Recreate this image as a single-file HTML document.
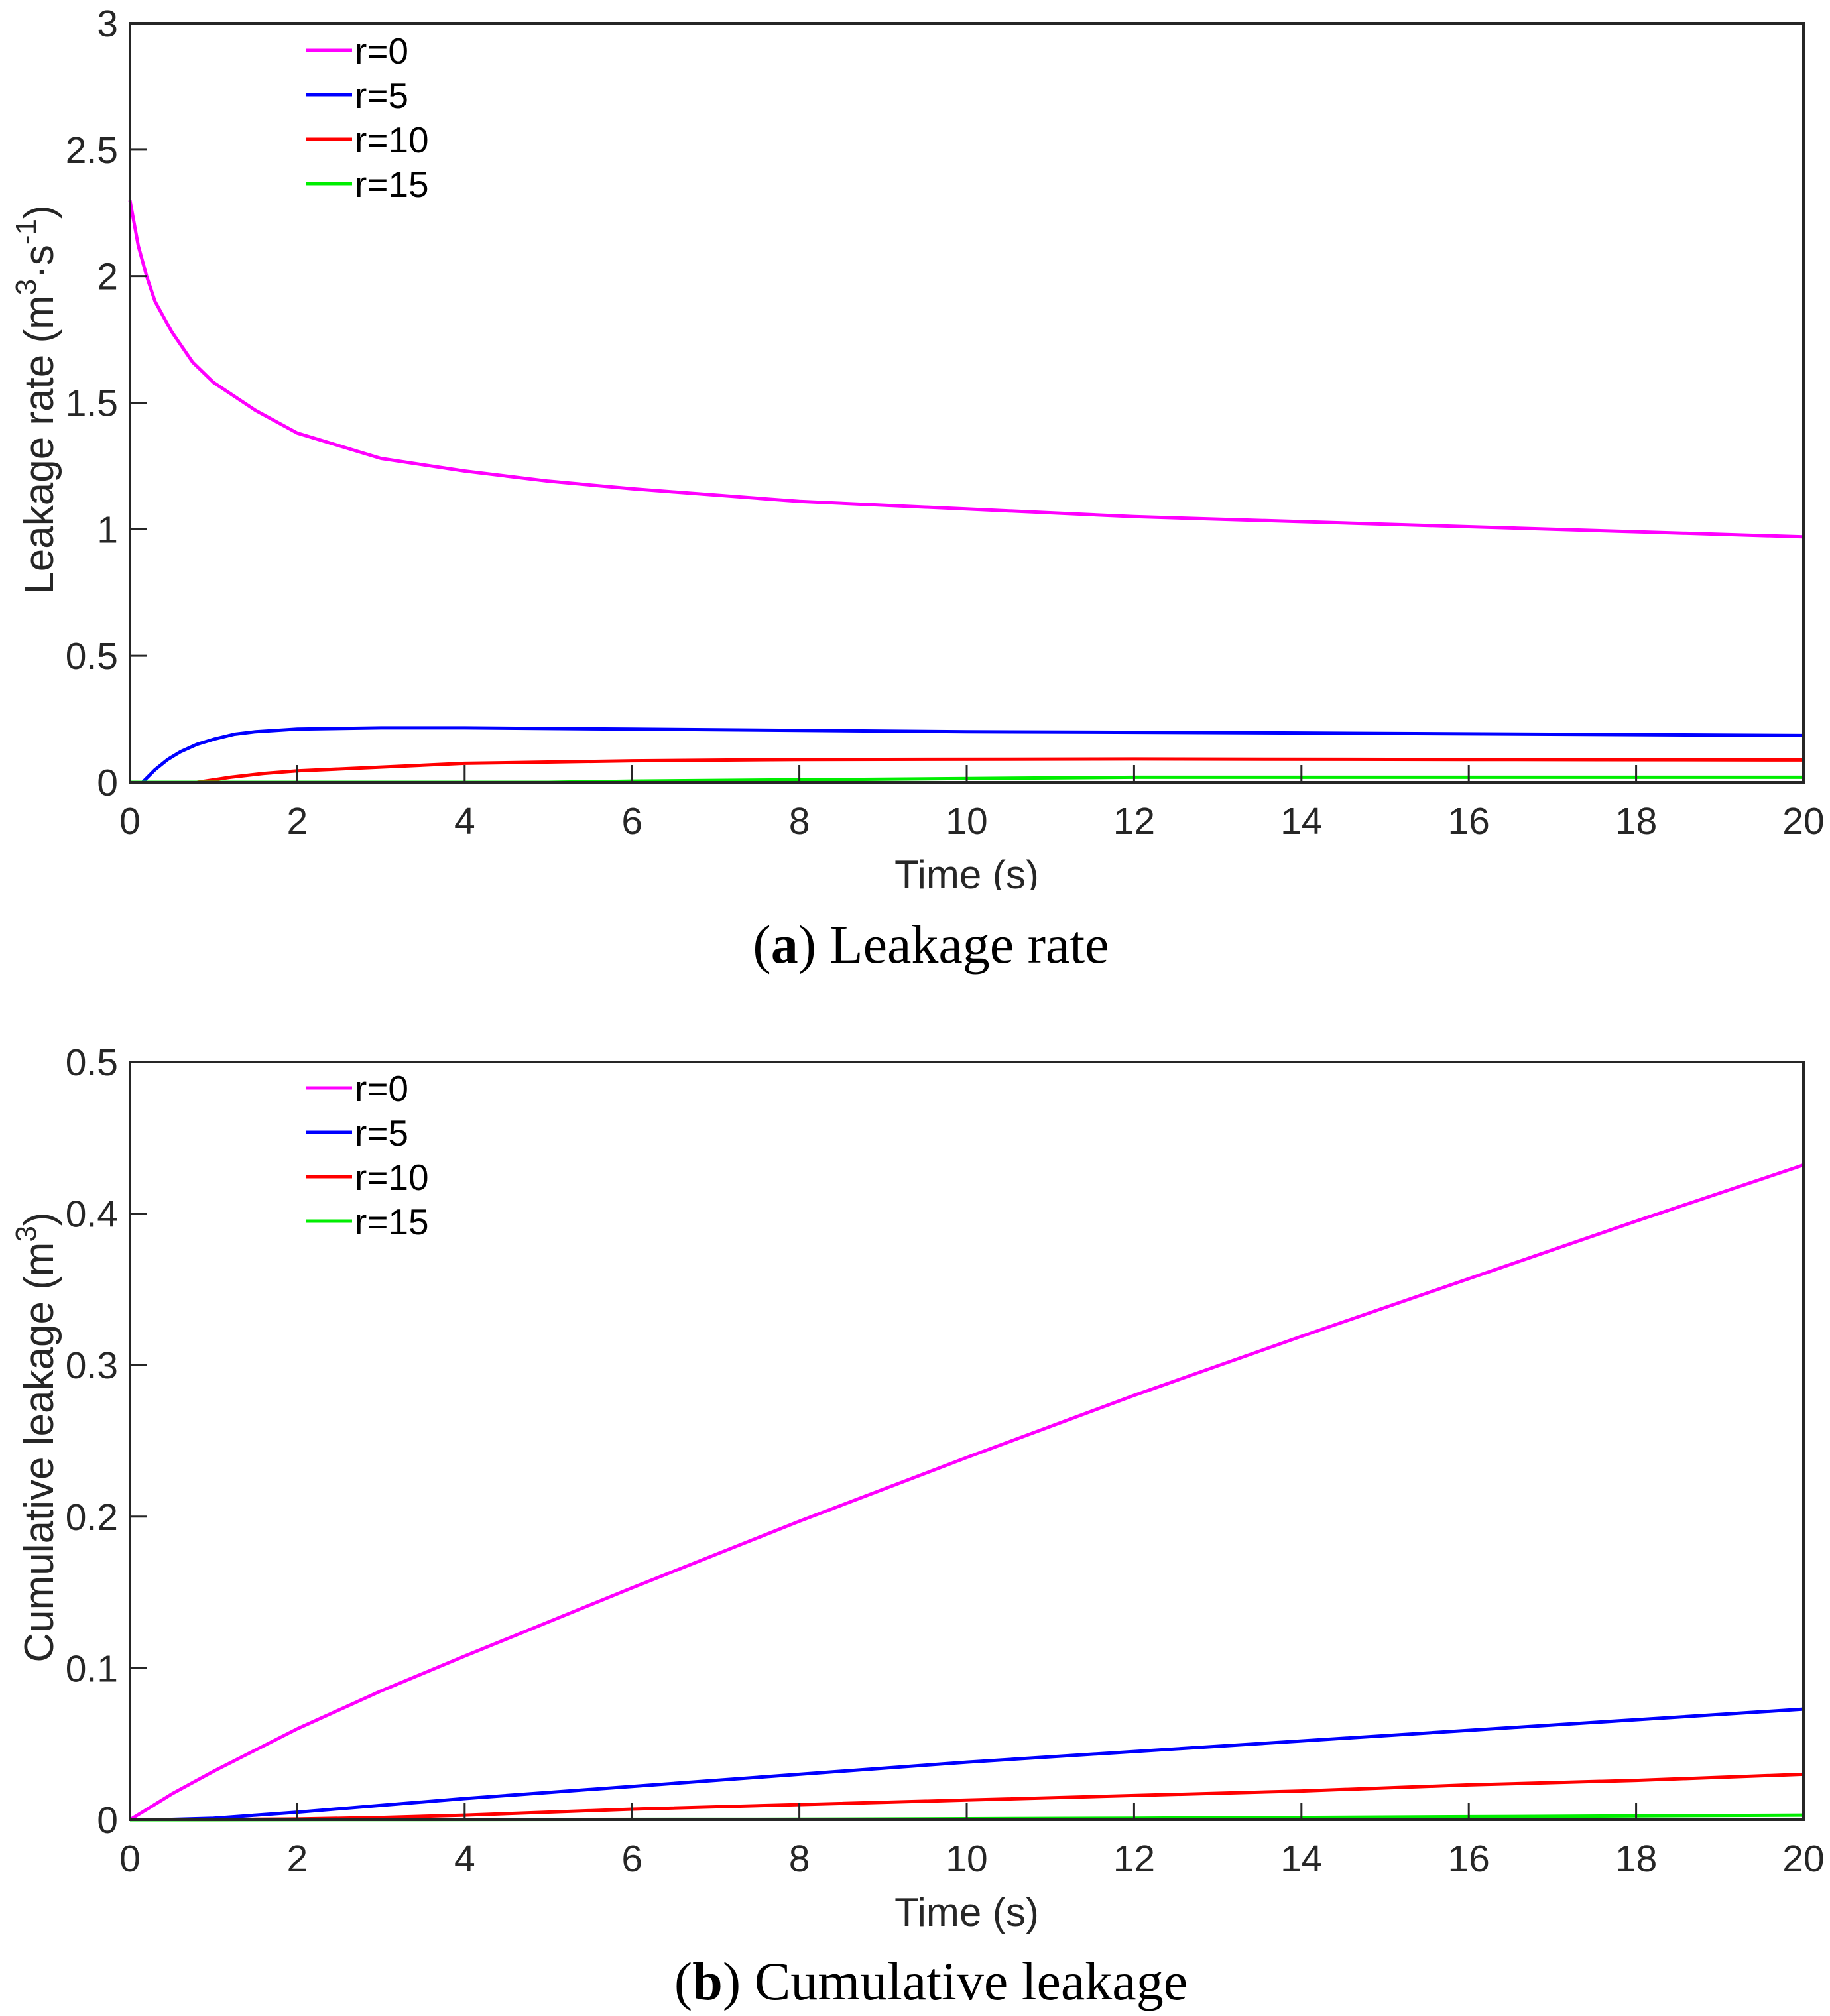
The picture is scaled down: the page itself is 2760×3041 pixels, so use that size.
<!DOCTYPE html>
<html><head><meta charset="utf-8"><style>
html,body{margin:0;padding:0;background:#fff;}
svg{display:block;}
</style></head><body>
<svg id="fig" width="2760" height="3041" viewBox="0 0 2760 3041" xmlns="http://www.w3.org/2000/svg"></svg>
<script>
// ---- Panel (a): Leakage rate ----
const rateT0 = [0,0.1,0.2,0.3,0.5,0.75,1,1.5,2,3,4,5,6,8,10,12,14,16,18,20];
const rateR0 = [2.3,2.12,2.0,1.9,1.78,1.66,1.58,1.47,1.38,1.28,1.23,1.19,1.16,1.11,1.08,1.05,1.03,1.01,0.99,0.97];
const rateT5 = [0,0.15,0.3,0.45,0.6,0.8,1,1.25,1.5,2,3,4,6,10,14,20];
const rateR5 = [0,0,0.05,0.09,0.12,0.15,0.17,0.19,0.2,0.21,0.215,0.215,0.21,0.2,0.195,0.185];
const rateT10 = [0,0.8,1.0,1.2,1.6,2,3,4,6,8,12,16,20];
const rateR10 = [0,0,0.01,0.02,0.035,0.045,0.06,0.075,0.085,0.09,0.092,0.09,0.088];
const rateT15 = [0,5,6,8,12,16,20];
const rateR15 = [0,0,0.005,0.01,0.02,0.02,0.02];
const rateYTicks = [0,0.5,1,1.5,2,2.5,3];
const rateYLabels = ["0","0.5","1","1.5","2","2.5","3"];
// ---- Panel (b): Cumulative leakage ----
const cumT = [0,0.5,1,1.5,2,3,4,6,8,10,12,14,16,18,20];
const cumR0 = [0,0.017,0.032,0.046,0.06,0.085,0.108,0.153,0.197,0.239,0.28,0.319,0.357,0.395,0.432];
const cumR5 = [0,0.0002,0.001,0.003,0.005,0.0095,0.014,0.022,0.03,0.038,0.045,0.052,0.059,0.066,0.073];
const cumR10 = [0,0,0.0001,0.0003,0.0005,0.0015,0.003,0.007,0.01,0.013,0.016,0.019,0.023,0.026,0.03];
const cumT15 = [0,8,12,16,20];
const cumR15 = [0,0.0003,0.001,0.002,0.003];
const cumYTicks = [0,0.1,0.2,0.3,0.4,0.5];
const cumYLabels = ["0","0.1","0.2","0.3","0.4","0.5"];
const xTicks = [0,2,4,6,8,10,12,14,16,18,20];
const seriesNames = ["r=0","r=5","r=10","r=15"];
const seriesColors = ["#ff00ff","#0000ff","#ff0000","#00ee00"];

const NS="http://www.w3.org/2000/svg";
const svg=document.getElementById('fig');
function mk(tag,attrs,parent,text){const e=document.createElementNS(NS,tag);for(const k in attrs)e.setAttribute(k,attrs[k]);if(text!==undefined)e.textContent=text;(parent||svg).appendChild(e);return e;}

function panel(cfg){
  const g=mk('g',{});
  
  
  const L=196,R=2720,T=cfg.top,B=cfg.bottom;
  const xs=v=>L+(v-0)/20*(R-L);
  const ys=v=>B-(v-cfg.ymin)/(cfg.ymax-cfg.ymin)*(B-T);
  cfg.series.forEach((s,i)=>{
    const d=s.t.map((t,j)=>(j?'L':'M')+xs(t).toFixed(1)+' '+ys(s.v[j]).toFixed(1)).join(' ');
    const p=mk('path',{d:d,fill:'none',stroke:seriesColors[i],'stroke-width':5,'stroke-linejoin':'round'},g);
    
    
  });
  const box=mk('rect',{x:L,y:T,width:R-L,height:B-T,fill:'none',stroke:'#262626','stroke-width':4},g);
  
  
  xTicks.forEach(v=>{
    const x=xs(v);
    mk('line',{x1:x,y1:B,x2:x,y2:B-26,stroke:'#262626','stroke-width':3},g);
    const t=mk('text',{x:x,y:B+78,'text-anchor':'middle','font-size':57,'font-family':'Liberation Sans, sans-serif',fill:'#262626'},g,String(v));
    
    
  });
  cfg.yTicks.forEach((v,i)=>{
    const y=ys(v);
    mk('line',{x1:L,y1:y,x2:L+26,y2:y,stroke:'#262626','stroke-width':3},g);
    const t=mk('text',{x:L-18,y:y+20,'text-anchor':'end','font-size':57,'font-family':'Liberation Sans, sans-serif',fill:'#262626'},g,cfg.yLabels[i]);
    
    
  });
  const xt=mk('text',{x:(L+R)/2,y:B+160,'text-anchor':'middle','font-size':60,'font-family':'Liberation Sans, sans-serif',fill:'#262626'},g,'Time (s)');
  
  
  if(cfg.clipX){ mk('rect',{x:1300,y:B+163,width:300,height:24,fill:'#fff'},g); }
  const yt=mk('text',{x:0,y:0,transform:'translate(80,'+cfg.ylabelY+') rotate(-90)','text-anchor':'middle','font-size':62,'font-family':'Liberation Sans, sans-serif',fill:'#262626'},g);
  
  
  yt.innerHTML=cfg.ylabel;
  const lg=mk('g',{},g);
  
  
  seriesNames.forEach((n,i)=>{
    const y=cfg.legendY+i*67;
    const e=mk('g',{},lg);
    
    
    mk('line',{x1:461,y1:y,x2:531,y2:y,stroke:seriesColors[i],'stroke-width':5},e);
    mk('text',{x:535,y:y+20,'font-size':55,'font-family':'Liberation Sans, sans-serif',fill:'#000'},e,n);
  });
  const c=mk('text',{x:1404,y:cfg.captionY,'text-anchor':'middle','font-size':82,'font-family':'Liberation Serif, serif',fill:'#000'},g);
  
  
  c.innerHTML=cfg.caption;
}

panel({name:'leakage-rate-chart',top:35,bottom:1180,ymin:0,ymax:3,yTicks:rateYTicks,yLabels:rateYLabels,
  series:[{t:rateT0,v:rateR0},{t:rateT5,v:rateR5},{t:rateT10,v:rateR10},{t:rateT15,v:rateR15}],
  ylabelY:603,ylabel:'Leakage rate (m<tspan dy="-26" font-size="44">3</tspan><tspan dy="26">·s</tspan><tspan dy="-26" font-size="44">-1</tspan><tspan dy="26">)</tspan>',
  legendY:76,captionY:1452,caption:'(<tspan font-weight="bold">a</tspan>) Leakage rate',clipX:true});
panel({name:'cumulative-leakage-chart',top:1602,bottom:2745,ymin:0,ymax:0.5,yTicks:cumYTicks,yLabels:cumYLabels,
  series:[{t:cumT,v:cumR0},{t:cumT,v:cumR5},{t:cumT,v:cumR10},{t:cumT15,v:cumR15}],
  ylabelY:2168,ylabel:'Cumulative leakage (m<tspan dy="-26" font-size="44">3</tspan><tspan dy="26">)</tspan>',
  legendY:1641,captionY:3016,caption:'(<tspan font-weight="bold">b</tspan>) Cumulative leakage',clipX:false});
</script>
</body></html>
